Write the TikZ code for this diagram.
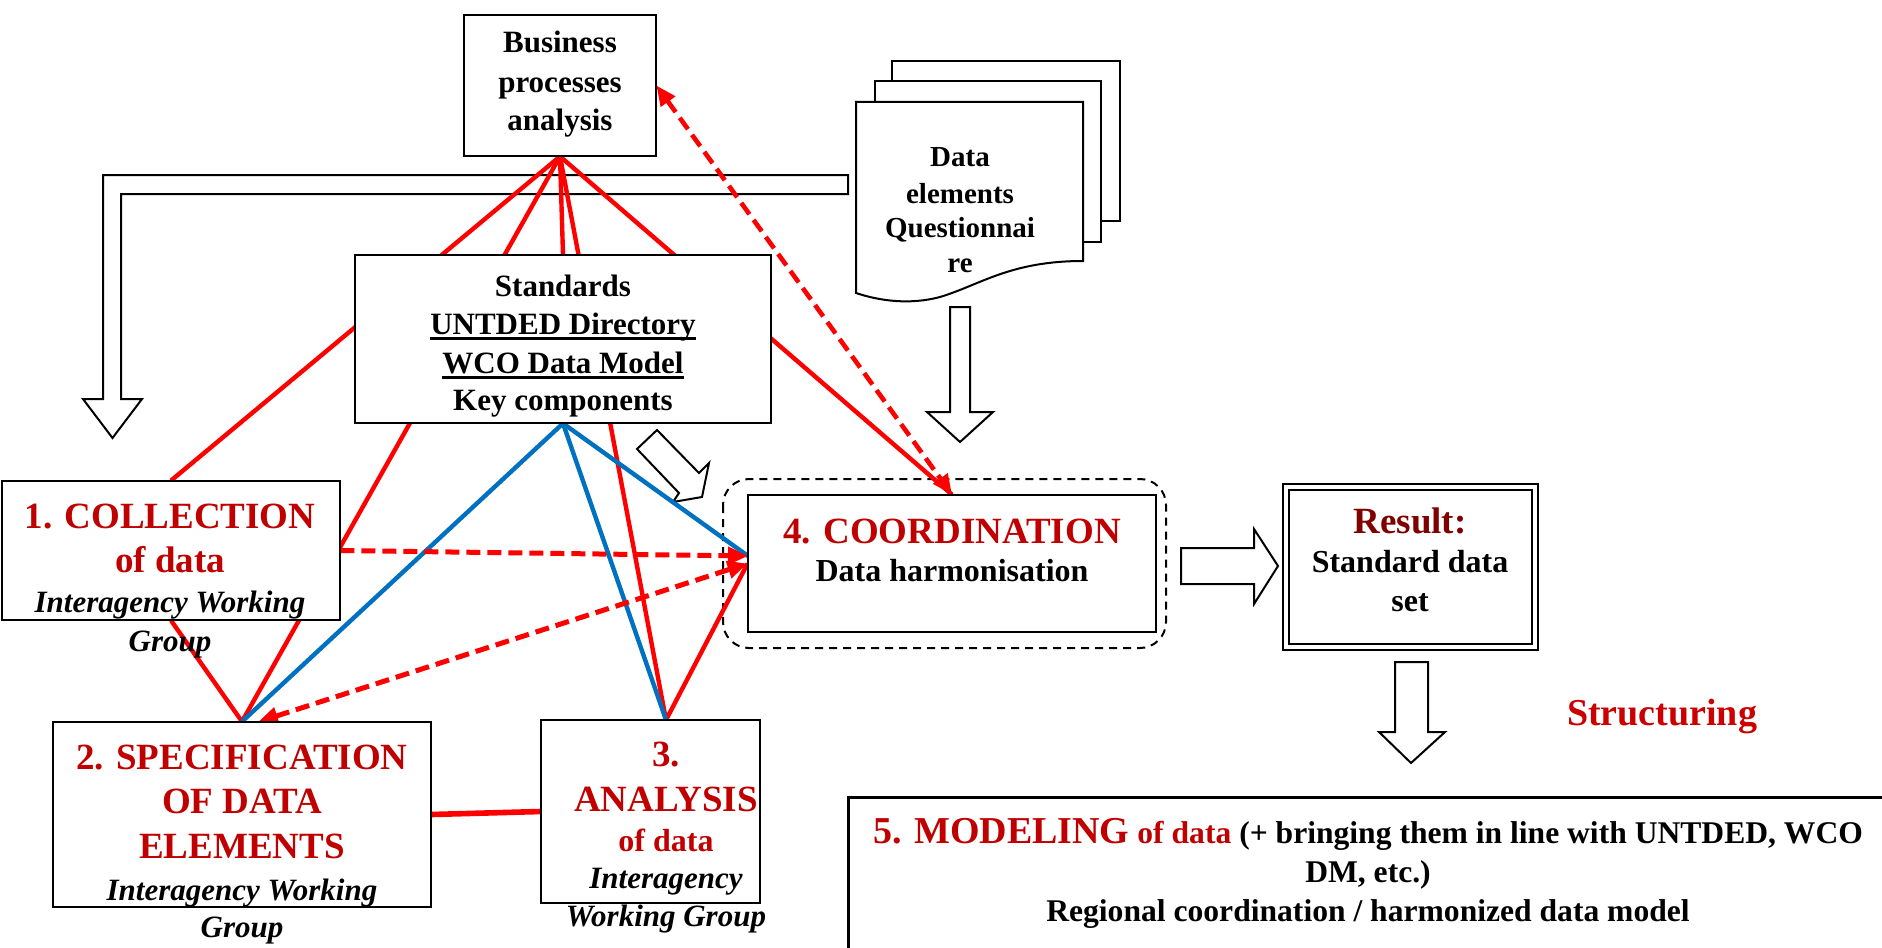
\documentclass[tikz,border=0pt]{standalone}
\usepackage{fontspec}
\setmainfont{Liberation Serif}
\usetikzlibrary{arrows.meta}
\definecolor{dred}{RGB}{192,0,0}
\definecolor{maroonc}{RGB}{128,0,0}
\definecolor{sred}{RGB}{204,0,0}
\definecolor{lred}{RGB}{255,0,0}
\definecolor{lblue}{RGB}{0,112,192}
\newcommand\myul[1]{\setbox0\hbox{#1}\rlap{\rule[-2.8pt]{\wd0}{1.3pt}}\box0}
\newcommand\mkbox[6]{\node[#1, minimum width={(#5-#3)*0.5pt}, minimum height={(#6-#4)*0.5pt}] (#2) at ({(#3+#5)/2},{(#4+#6)/2}) {};}
\tikzset{
  boxst/.style={draw, line width=1pt, fill=white, inner sep=0pt},
  hollow/.style={draw, fill=white, line width=1pt, line join=miter},
  rl/.style={draw=lred, line width=2.2pt},
  bl/.style={draw=lblue, line width=2.2pt},
  rdash/.style={draw=lred, line width=2.5pt, dash pattern=on 7pt off 3.5pt},
  tb/.style={font=\fontsize{15.5}{19}\selectfont\bfseries, inner sep=0pt, anchor=base},
  tq/.style={font=\fontsize{14.5}{18}\selectfont\bfseries, inner sep=0pt, anchor=base},
  tm/.style={font=\fontsize{16}{19}\selectfont\bfseries, inner sep=0pt, anchor=base},
  ti/.style={font=\fontsize{15.5}{19}\selectfont\bfseries\itshape, inner sep=0pt, anchor=base},
  tt/.style={font=\fontsize{18.5}{22}\selectfont\bfseries, text=dred, inner sep=0pt, anchor=base},
  tipa/.tip={Triangle[length=10pt,width=8.5pt]},
}
\begin{document}
\begin{tikzpicture}[x=0.5pt, y=-0.5pt]
\useasboundingbox (0,0) rectangle (1882,947);
\clip (0,0) rectangle (1882,947);

% questionnaire pages
\draw[hollow] (892,61) rectangle (1120,221);
\draw[hollow] (875,81) rectangle (1101,242);
\draw[hollow] (856,102) -- (1083,102) -- (1083,261) .. controls (1010,261) and (980,285) .. (940,297) .. controls (910,305) and (880,301) .. (856,293) -- cycle;

% hollow arrows
\draw[hollow] (848,175) -- (103,175) -- (103,399) -- (83,399) -- (112.5,438) -- (142,399) -- (121,399) -- (121,194) -- (848,194) -- cycle;
\draw[hollow] (950,307) -- (970,307) -- (970,412) -- (993,412) -- (960,442) -- (927,412) -- (950,412) -- cycle;
\draw[hollow] (657,430) -- (699,473) -- (709,463) -- (702,497) -- (673,502) -- (679,493) -- (637,449) -- cycle;
\draw[hollow] (1181,548) -- (1254,548) -- (1254,529) -- (1278,566) -- (1254,604) -- (1254,584) -- (1181,584) -- cycle;
\draw[hollow] (1395,662) -- (1428,662) -- (1428,732) -- (1445,732) -- (1411,763) -- (1379,732) -- (1395,732) -- cycle;

% dashed container
\draw[line width=1pt, dash pattern=on 4pt off 3pt, rounded corners=13pt] (723,479) rectangle (1166,648);

% boxes (defined first as nodes for names, drawn later on top)
\begin{scope}[every node/.style={inner sep=0pt}]
\mkbox{}{bp}{464}{15}{656}{156}
\mkbox{}{std}{355}{255}{771}{423}
\mkbox{}{coll}{2}{481}{340}{620}
\mkbox{}{spec}{53}{722}{431}{907}
\mkbox{}{an}{541}{720}{760}{903}
\mkbox{}{coord}{748}{495}{1156}{632}
\end{scope}
\coordinate (cw1) at (748,556);
\coordinate (spectop) at (258,722);
\coordinate (antop) at (666,720);

% red connectors
\draw[rl] (bp.south) -- (coll.north);
\draw[rl] (bp.south) -- (spec.north);
\draw[rl] (bp.south) -- (std.north);
\draw[rl] (bp.south) -- (antop);
\draw[rl] (bp.south) -- (coord.north);
\draw[rl] (coll.south) -- (spec.north);
\draw[rl, line width=2.8pt] (spec.east) -- (an.west);
\draw[rl] (antop) -- (coord.west);
% blue connectors
\draw[bl] (std.south) -- (spec.north);
\draw[bl] (std.south) -- (antop);
\draw[bl] (std.south) -- (cw1);
% dashed arrows
\draw[rdash, -tipa] (coll.east) -- (cw1);
\draw[rdash, tipa-tipa] (spectop) -- (coord.west);
\draw[draw=lred, line width=2.3pt, dash pattern=on 7pt off 3.5pt, tipa-tipa] (bp.east) -- (coord.north);

% draw boxes on top
\draw[boxst] (bp.north west) rectangle (bp.south east);
\draw[boxst] (std.north west) rectangle (std.south east);
\draw[boxst] (coll.north west) rectangle (coll.south east);
\draw[boxst] (spec.north west) rectangle (spec.south east);
\draw[boxst] (an.north west) rectangle (an.south east);
\draw[boxst] (coord.north west) rectangle (coord.south east);
\node[draw, double, double distance=1.6pt, line width=1.2pt, fill=white, minimum width=124.5pt, minimum height=80pt, inner sep=0pt] (res) at (1410.5,567) {};
\node[draw, line width=1.5pt, fill=white, minimum width=526pt, minimum height=100pt, inner sep=0pt] (m5) at (1374,897) {};

% texts
\node[tb] (bp1) at (560,53) {Business};
\node[tb] (bp2) at (560,92) {processes};
\node[tb] (bp3) at (560,130) {analysis};

\node[tb] (s1) at (563,296) {Standards};
\node[tb] (s2) at (563,334) {\myul{UNTDED Directory}};
\node[tb] (s3) at (563,373) {\myul{WCO Data Model}};
\node[tb] (s4) at (563,410) {Key components};

\node[tq] (q1) at (960,166) {Data};
\node[tq] (q2) at (960,203) {elements};
\node[tq] (q3) at (960,237) {Questionnai};
\node[tq] (q4) at (960,272) {re};

\node[tt] (c1) at (170,528) {1. COLLECTION};
\node[tt] (c2) at (170,572) {of data};
\node[ti] (c3) at (170,612) {Interagency Working};
\node[ti] (c4) at (170,651) {Group};

\node[tt] (p1) at (242,769) {2. SPECIFICATION};
\node[tt] (p2) at (242,813) {OF DATA};
\node[tt] (p3) at (242,858) {ELEMENTS};
\node[ti] (p4) at (242,900) {Interagency Working};
\node[ti] (p5) at (242,937) {Group};

\node[tt] (a1) at (666,766) {3.};
\node[tt] (a2) at (666,811) {ANALYSIS};
\node[tm, text=dred] (a3) at (666,851) {of data};
\node[ti] (a4) at (666,888) {Interagency};
\node[ti] (a5) at (666,926) {Working Group};

\node[tt] (k1) at (952,543) {4. COORDINATION};
\node[tm] (k2) at (952,581) {Data harmonisation};

\node[tt, text=maroonc] (r1) at (1410,533) {Result:};
\node[tm] (r2) at (1410,572) {Standard data};
\node[tm] (r3) at (1410,611) {set};

\node[font=\fontsize{19}{22}\selectfont\bfseries, text=sred, inner sep=0pt, anchor=base] (st) at (1662,725) {Structuring};

\node[font=\fontsize{15.8}{19}\selectfont\bfseries, inner sep=0pt, anchor=base] (m1) at (1368,843) {{\fontsize{19}{22}\selectfont\color{dred}5. MODELING} {\color{dred}of data} (+ bringing them in line with UNTDED, WCO};
\node[font=\fontsize{15.8}{19}\selectfont\bfseries, inner sep=0pt, anchor=base] (m2) at (1368,882) {DM, etc.)};
\node[font=\fontsize{15.8}{19}\selectfont\bfseries, inner sep=0pt, anchor=base] (m3) at (1368,921) {Regional coordination / harmonized data model};
\end{tikzpicture}
\end{document}
